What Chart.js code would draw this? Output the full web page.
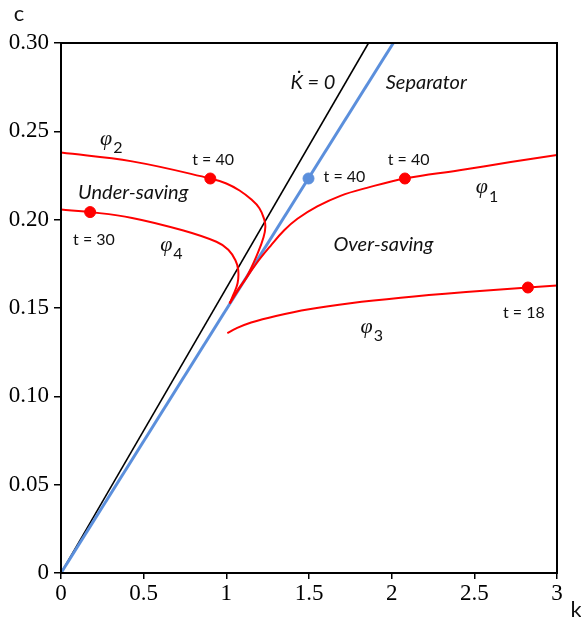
<!DOCTYPE html>
<html>
<head>
<meta charset="utf-8">
<script src="https://cdn.jsdelivr.net/npm/chart.js"></script>
<style>
  html, body { margin: 0; padding: 0; background: #fff; }
  #chart { display: block; }
</style>
</head>
<body>
<canvas id="chart" width="581" height="622"></canvas>
<script>
// K-dot = 0 line and separator
const kZero = [0, 1.86];
const cZero = [0, 0.30];
const kSep = [0, 2.01];
const cSep = [0, 0.30];

// trajectories
const kPhi1 = [1.02, 1.10, 1.18, 1.27, 1.35, 1.43, 1.55, 1.69, 1.85, 2.08, 2.41, 2.72, 3.0];
const cPhi1 = [0.1526, 0.164, 0.175, 0.1855, 0.194, 0.2005, 0.2075, 0.2135, 0.218, 0.2233, 0.228, 0.2326, 0.2366];

const kPhi2 = [0, 0.43, 0.903, 1.0, 1.08, 1.15, 1.2, 1.228, 1.236, 1.225, 1.19, 1.125, 1.06, 1.02];
const cPhi2 = [0.238, 0.233, 0.2233, 0.2205, 0.2165, 0.2115, 0.2065, 0.2005, 0.196, 0.19, 0.181, 0.168, 0.159, 0.1526];

const kPhi3 = [1.006, 1.06, 1.15, 1.3, 1.5, 1.75, 2.055, 2.45, 2.824, 3.0];
const cPhi3 = [0.1358, 0.1385, 0.1418, 0.1455, 0.1493, 0.1527, 0.1558, 0.159, 0.1616, 0.1627];

const kPhi4 = [0, 0.176, 0.43, 0.735, 0.94, 1.012, 1.055, 1.072, 1.068, 1.04, 1.02];
const cPhi4 = [0.2057, 0.2043, 0.201, 0.194, 0.1875, 0.183, 0.177, 0.1715, 0.164, 0.157, 0.1526];

// marked times
const kRedDots = [0.903, 2.08, 0.176, 2.824];
const cRedDots = [0.2233, 0.2233, 0.2043, 0.1616];
const kBlueDot = [1.497];
const cBlueDot = [0.2233];

const xTicks = [0, 0.5, 1, 1.5, 2, 2.5, 3];
const yTicks = [0, 0.05, 0.10, 0.15, 0.20, 0.25, 0.30];

// text labels: [text, k, c, kind]
const labels = [
  ['K\u0307 = 0', 1.388, 0.2778, 'it'],
  ['Separator', 1.964, 0.2778, 'it'],
  ['Under-saving', 0.103, 0.2153, 'it'],
  ['Over-saving', 1.648, 0.1858, 'it'],
  ['t = 40', 0.794, 0.234, 'n'],
  ['t = 40', 1.588, 0.2244, 'n'],
  ['t = 40', 1.976, 0.234, 'n'],
  ['t = 30', 0.073, 0.1886, 'n'],
  ['t = 18', 2.673, 0.1472, 'n']
];
const phiLabels = [
  ['1', 2.509, 0.2182],
  ['2', 0.236, 0.2455],
  ['3', 1.812, 0.1392],
  ['4', 0.600, 0.1858]
];

const RED = '#ff0000';
const BLUE = '#5b8fdc';

const pts = (ks, cs) => ks.map((k, i) => ({ x: k, y: cs[i] }));

const curve = (ks, cs) => ({
  data: pts(ks, cs),
  showLine: true,
  borderColor: RED,
  borderWidth: 2,
  pointRadius: 0,
  tension: 0.4,
  fill: false,
  order: 1
});

const framePlugin = {
  id: 'frame',
  afterDraw(chart) {
    const { ctx, chartArea: a } = chart;
    ctx.save();
    ctx.strokeStyle = '#000';
    ctx.lineWidth = 2;
    ctx.strokeRect(a.left, a.top, a.right - a.left, a.bottom - a.top);
    // axis titles
    ctx.fillStyle = '#111';
    ctx.font = '22px Lato';
    ctx.textAlign = 'center';
    ctx.textBaseline = 'middle';
    ctx.fillText('c', a.left - 42, a.top - 29);
    ctx.fillText('k', a.right + 19, a.bottom + 37);
    ctx.restore();
  }
};

const textPlugin = {
  id: 'texts',
  afterDatasetsDraw(chart) {
    const { ctx, scales } = chart;
    const X = scales.x, Y = scales.y;
    ctx.save();
    ctx.fillStyle = '#111';
    ctx.textAlign = 'left';
    ctx.textBaseline = 'middle';
    labels.forEach(([t, k, c, kind]) => {
      ctx.font = kind === 'it' ? 'italic 20px Lato' : '16px Lato';
      ctx.fillText(t, X.getPixelForValue(k), Y.getPixelForValue(c));
    });
    phiLabels.forEach(([sub, k, c]) => {
      const px = X.getPixelForValue(k), py = Y.getPixelForValue(c);
      ctx.font = 'italic 22px "Liberation Serif"';
      ctx.fillText('\u03c6', px, py);
      const w = ctx.measureText('\u03c6').width;
      ctx.font = '16px Lato';
      ctx.fillText(sub, px + w + 1, py + 9);
    });
    ctx.restore();
  }
};

new Chart(document.getElementById('chart'), {
  type: 'scatter',
  data: {
    datasets: [
      { data: pts(kRedDots, cRedDots), backgroundColor: RED, borderColor: RED, pointRadius: 5.5, pointHoverRadius: 5.5, showLine: false, order: 0 },
      { data: pts(kBlueDot, cBlueDot), backgroundColor: BLUE, borderColor: BLUE, pointRadius: 5.5, showLine: false, order: 0 },
      curve(kPhi1, cPhi1),
      curve(kPhi2, cPhi2),
      curve(kPhi3, cPhi3),
      curve(kPhi4, cPhi4),
      { data: pts(kSep, cSep), showLine: true, borderColor: BLUE, borderWidth: 3, pointRadius: 0, order: 2 },
      { data: pts(kZero, cZero), showLine: true, borderColor: '#000', borderWidth: 1.6, pointRadius: 0, order: 3 }
    ]
  },
  options: {
    responsive: false,
    animation: false,
    events: [],
    layout: { padding: { left: 0, right: 24, top: 43, bottom: 0 } },
    plugins: { legend: { display: false }, tooltip: { enabled: false } },
    scales: {
      x: {
        type: 'linear',
        min: 0,
        max: 3,
        afterFit: (s) => { s.height = 49; },
        afterBuildTicks: (s) => { s.ticks = xTicks.map(v => ({ value: v })); },
        grid: { drawOnChartArea: false, drawTicks: true, tickLength: 6, color: '#000', lineWidth: 1.5 },
        border: { display: true, color: '#000', width: 2 },
        ticks: {
          color: '#000',
          padding: 1,
          maxRotation: 0,
          font: { family: '"Liberation Serif"', size: 23 },
          callback: (v) => String(v)
        }
      },
      y: {
        type: 'linear',
        min: 0,
        max: 0.30,
        afterFit: (s) => { s.width = 61; },
        afterBuildTicks: (s) => { s.ticks = yTicks.map(v => ({ value: v })); },
        grid: { drawOnChartArea: false, drawTicks: true, tickLength: 7, color: '#000', lineWidth: 1.5 },
        border: { display: true, color: '#000', width: 2 },
        ticks: {
          color: '#000',
          padding: 5,
          font: { family: '"Liberation Serif"', size: 23 },
          callback: (v) => v === 0 ? '0' : v.toFixed(2)
        }
      }
    }
  },
  plugins: [framePlugin, textPlugin]
});
</script>
</body>
</html>
